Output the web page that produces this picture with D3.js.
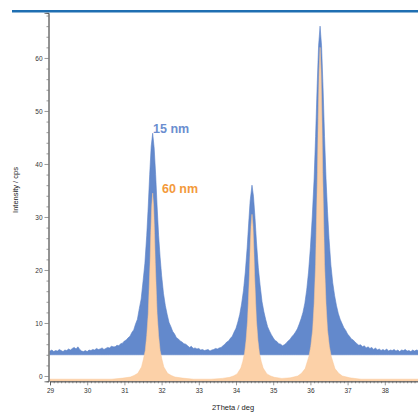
<!DOCTYPE html>
<html>
<head>
<meta charset="utf-8">
<script src="https://cdn.jsdelivr.net/npm/d3@7"></script>
<style>
  body { margin: 0; background: #fff; }
  svg { display: block; font-family: "Liberation Sans", Arial, sans-serif; }
</style>
</head>
<body>
<div id="container"></div>
<script>
// 15 nm pattern (blue)
const blueTheta = [
  29.00, 29.05, 29.10, 29.15, 29.20, 29.25, 29.30, 29.35, 29.40, 29.45, 29.50, 29.55, 29.60, 29.65, 29.70, 29.75,
  29.80, 29.85, 29.90, 29.95, 30.00, 30.05, 30.10, 30.15, 30.20, 30.25, 30.30, 30.35, 30.40, 30.45, 30.50, 30.55,
  30.60, 30.65, 30.70, 30.75, 30.80, 30.85, 30.90, 30.95, 31.00, 31.05, 31.10, 31.15, 31.20, 31.25, 31.30, 31.35,
  31.40, 31.45, 31.50, 31.55, 31.60, 31.64, 31.68, 31.72, 31.76, 31.80, 31.84, 31.88, 31.92, 31.96, 32.00, 32.05,
  32.10, 32.15, 32.20, 32.25, 32.30, 32.35, 32.40, 32.45, 32.50, 32.55, 32.60, 32.65, 32.70, 32.75, 32.80, 32.85,
  32.90, 32.95, 33.00, 33.05, 33.10, 33.15, 33.20, 33.25, 33.30, 33.35, 33.40, 33.45, 33.50, 33.55, 33.60, 33.65,
  33.70, 33.75, 33.80, 33.85, 33.90, 33.95, 34.00, 34.05, 34.10, 34.15, 34.20, 34.25, 34.30, 34.34, 34.38, 34.43,
  34.47, 34.51, 34.55, 34.60, 34.65, 34.70, 34.75, 34.80, 34.85, 34.90, 34.95, 35.00, 35.05, 35.10, 35.15, 35.20,
  35.25, 35.30, 35.35, 35.40, 35.45, 35.50, 35.55, 35.60, 35.65, 35.70, 35.75, 35.80, 35.85, 35.90, 35.95, 36.00,
  36.05, 36.10, 36.14, 36.18, 36.22, 36.26, 36.30, 36.34, 36.38, 36.42, 36.46, 36.50, 36.55, 36.60, 36.65, 36.70,
  36.75, 36.80, 36.85, 36.90, 36.95, 37.00, 37.05, 37.10, 37.15, 37.20, 37.25, 37.30, 37.35, 37.40, 37.45, 37.50,
  37.55, 37.60, 37.65, 37.70, 37.75, 37.80, 37.85, 37.90, 37.95, 38.00, 38.05, 38.10, 38.15, 38.20, 38.25, 38.30,
  38.35, 38.40, 38.45, 38.50, 38.55, 38.60, 38.65, 38.70, 38.75, 38.80, 38.85, 38.90, 38.95, 39.00
];
const blueCounts = [
  4.7, 4.9, 4.6, 4.8, 4.7, 5.0, 4.8, 4.6, 4.9, 4.8, 5.1, 4.9, 5.2, 5.4, 5.1, 5.5,
  5.0, 4.7, 4.6, 4.8, 4.6, 4.9, 4.8, 5.0, 4.9, 5.2, 5.0, 5.1, 5.3, 5.0, 5.2, 5.4,
  5.3, 5.6, 5.5, 5.5, 5.8, 5.7, 6.1, 6.2, 6.6, 6.8, 7.2, 7.5, 8.2, 8.7, 9.8, 10.7,
  12.7, 14.5, 17.8, 21.2, 26.5, 31.9, 38.0, 43.3, 45.8, 43.0, 38.0, 31.9, 26.5, 22.4, 19.0, 15.6,
  13.3, 11.6, 10.1, 9.3, 8.4, 7.9, 7.2, 7.0, 6.6, 6.4, 6.1, 6.0, 5.7, 5.4, 5.6, 5.2,
  5.3, 5.1, 5.2, 4.9, 5.0, 4.8, 4.9, 5.0, 4.7, 4.9, 5.0, 5.2, 5.1, 5.3, 5.4, 5.7,
  6.0, 6.4, 6.6, 7.1, 7.5, 8.3, 9.0, 10.2, 11.6, 13.6, 16.1, 19.6, 24.2, 28.7, 33.0, 36.0,
  33.9, 29.9, 25.3, 20.4, 17.0, 14.0, 12.1, 10.6, 9.3, 8.5, 7.8, 7.2, 6.7, 6.5, 6.1, 6.0,
  5.7, 5.9, 6.2, 6.6, 6.9, 7.4, 7.8, 8.3, 8.9, 9.8, 10.8, 12.0, 13.7, 16.2, 19.6, 24.2,
  30.0, 37.2, 45.2, 54.4, 62.3, 66.0, 62.3, 54.4, 45.2, 37.2, 31.1, 26.0, 21.0, 17.6, 15.2, 13.3,
  11.8, 10.7, 9.9, 9.1, 8.6, 7.9, 7.5, 7.0, 6.8, 6.4, 6.1, 5.8, 5.9, 5.5, 5.7, 5.3,
  5.5, 5.2, 5.4, 5.0, 5.3, 4.9, 5.1, 4.8, 5.0, 4.8, 5.1, 4.7, 4.9, 4.8, 5.0, 4.7,
  4.9, 4.6, 4.9, 4.8, 5.0, 4.7, 4.8, 4.6, 4.9, 4.7, 4.9, 4.8, 4.7, 4.8
];

// 60 nm pattern (orange)
const orangeTheta = [
  29.00, 30.66, 30.96, 31.16, 31.26, 31.36, 31.46, 31.51, 31.56, 31.60, 31.64, 31.66, 31.69, 31.71, 31.735, 31.76,
  31.785, 31.81, 31.83, 31.86, 31.88, 31.92, 31.96, 32.01, 32.06, 32.16, 32.26, 32.36, 32.56, 32.86,
  33.33, 33.63, 33.83, 33.93, 34.03, 34.13, 34.18, 34.23, 34.27, 34.31, 34.33, 34.36, 34.38, 34.405, 34.43,
  34.455, 34.48, 34.50, 34.53, 34.55, 34.59, 34.63, 34.68, 34.73, 34.83, 34.93, 35.03, 35.23,
  35.46, 35.66, 35.76, 35.86, 35.96, 36.01, 36.06, 36.10, 36.14, 36.16, 36.19, 36.21, 36.235, 36.26,
  36.285, 36.31, 36.33, 36.36, 36.38, 36.42, 36.46, 36.51, 36.56, 36.66, 36.76, 36.86, 37.06, 37.36, 39.00
];
const orangeCounts = [
  -0.6, -0.6, -0.4, -0.2, 0.1, 0.5, 1.7, 3.1, 4.8, 7.6, 11.7, 15.5, 21.4, 26.9, 32.1, 34.5,
  32.1, 26.9, 21.4, 15.5, 11.7, 7.6, 4.8, 3.1, 1.7, 0.5, 0.1, -0.2, -0.4, -0.6,
  -0.6, -0.45, -0.25, 0.0, 0.4, 1.5, 2.7, 4.3, 6.7, 10.4, 13.7, 18.9, 23.8, 28.4, 30.5,
  28.4, 23.8, 18.9, 13.7, 10.4, 6.7, 4.3, 2.7, 1.5, 0.4, 0.0, -0.25, -0.45,
  -0.35, 0.0, 0.5, 1.4, 3.7, 5.6, 8.7, 13.6, 21.1, 27.9, 38.4, 48.4, 57.7, 62.0,
  57.7, 48.4, 38.4, 27.9, 21.1, 13.6, 8.7, 5.6, 3.7, 1.4, 0.5, 0.0, -0.35, -0.6, -0.6
];

const yMajor = [0, 10, 20, 30, 40, 50, 60];
const yMinor = d3.range(0, 69, 2).filter(v => v % 10 !== 0);
const xMajor = [29, 30, 31, 32, 33, 34, 35, 36, 37, 38];
const xMinor = d3.range(290, 391, 1).map(v => v / 10).filter(v => Math.abs(v - Math.round(v)) > 0.01);
const blueBase = 4.0;
const labels = [
  { text: '15 nm', theta: 31.77, value: 45.8, color: '#6b8ed0' },
  { text: '60 nm', theta: 32.01, value: 34.6, color: '#f39a3c' }
];

const W = 418, H = 414;
const svg = d3.select('#container')
  .append('svg')
  .attr('width', W)
  .attr('height', H);

const x = d3.scaleLinear().domain([29, 39]).range([50, 422]);
const y = d3.scaleLinear().domain([-1, 68.5]).range([381.3, 12.9]);

// header bar
svg.append('rect')
  .attr('x', 12).attr('y', 10)
  .attr('width', W - 12).attr('height', 2.5)
  .attr('fill', '#1f6fb2');

svg.append('clipPath').attr('id', 'plot')
  .append('rect')
  .attr('x', 48.5).attr('y', 13)
  .attr('width', W - 48.5).attr('height', 368.3);

const plot = svg.append('g').attr('clip-path', 'url(#plot)');

const blue = blueTheta.map((t, i) => [t, blueCounts[i]]);
const orange = orangeTheta.map((t, i) => [t, orangeCounts[i]]);

plot.append('path')
  .datum(blue)
  .attr('fill', '#6389cc')
  .attr('stroke', '#5a82c8')
  .attr('stroke-width', 0.6)
  .attr('d', d3.area()
    .x(d => x(d[0]))
    .y0(y(blueBase))
    .y1(d => y(d[1])));

plot.append('path')
  .datum(orange)
  .attr('fill', '#fcd1a8')
  .attr('stroke', '#fbc898')
  .attr('stroke-width', 0.5)
  .attr('d', d3.area()
    .x(d => x(d[0]))
    .y0(y(-1))
    .y1(d => y(d[1])));

// axes
const axisColor = '#555';
const yAxis = svg.append('g')
  .attr('transform', 'translate(48.5,0)');
yAxis.call(d3.axisLeft(y).tickValues(yMinor).tickSize(2).tickFormat(''));
yAxis.call(g => g.append('g').call(d3.axisLeft(y).tickValues(yMajor).tickSize(4).tickPadding(2)));
yAxis.selectAll('.domain').attr('stroke', axisColor).attr('stroke-width', 0.8);
yAxis.selectAll('.tick line').attr('stroke', axisColor).attr('stroke-width', 0.6);
yAxis.selectAll('text').attr('font-size', 6.5).attr('fill', '#333').attr('font-family', '"Liberation Sans", Arial, sans-serif');

const xAxis = svg.append('g')
  .attr('transform', 'translate(0,381.3)');
xAxis.call(d3.axisBottom(x).tickValues(xMinor).tickSize(2).tickFormat(''));
xAxis.call(g => g.append('g').call(d3.axisBottom(x).tickValues(xMajor).tickSize(4).tickPadding(3).tickFormat(d3.format('d'))));
xAxis.selectAll('.domain').attr('stroke', axisColor).attr('stroke-width', 0.8);
xAxis.selectAll('.tick line').attr('stroke', axisColor).attr('stroke-width', 0.6);
xAxis.selectAll('text').attr('font-size', 6.5).attr('fill', '#333').attr('font-family', '"Liberation Sans", Arial, sans-serif');

// axis titles
svg.append('text')
  .attr('transform', 'translate(18,190) rotate(-90)')
  .attr('text-anchor', 'middle')
  .attr('font-size', 7.5)
  .attr('fill', '#222')
  .text('Intensity / cps');

svg.append('text')
  .attr('x', 233).attr('y', 410)
  .attr('text-anchor', 'middle')
  .attr('font-size', 7.5)
  .attr('fill', '#222')
  .text('2Theta / deg');

// series labels
svg.selectAll('.lbl')
  .data(labels)
  .enter()
  .append('text')
  .attr('class', 'lbl')
  .attr('x', d => x(d.theta))
  .attr('y', d => y(d.value))
  .attr('font-size', 12.5)
  .attr('font-weight', 'bold')
  .attr('fill', d => d.color)
  .text(d => d.text);
</script>
</body>
</html>
